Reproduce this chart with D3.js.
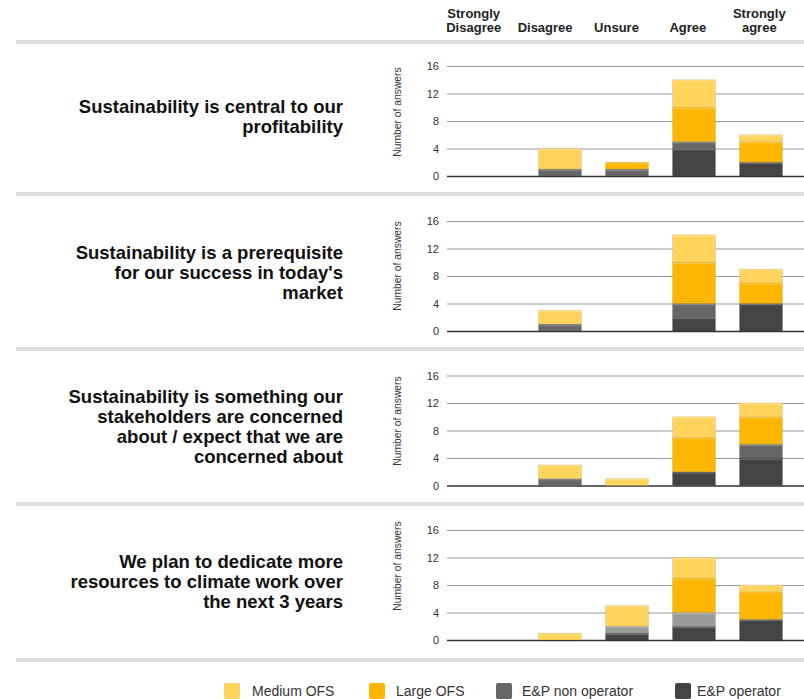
<!DOCTYPE html>
<html>
<head>
<meta charset="utf-8">
<script src="https://cdn.jsdelivr.net/npm/d3@7"></script>
<style>
  html, body { margin: 0; padding: 0; background: #fff; }
  svg { display: block; font-family: "Liberation Sans", Arial, Helvetica, sans-serif; }
</style>
</head>
<body>
<svg id="chart" width="804" height="699"></svg>
<script>
// Answer categories (x axis) and the column headings drawn above them
const categories = ["Strongly Disagree", "Disagree", "Unsure", "Agree", "Strongly agree"];
const headerLines = [["Strongly", "Disagree"], ["Disagree"], ["Unsure"], ["Agree"], ["Strongly", "agree"]];

// Respondent groups, stacked from the bottom up
const groups = ["E&P operator", "E&P non operator", "Large OFS", "Medium OFS"];

// Statements (one panel each)
const statements = [
  ["Sustainability is central to our", "profitability"],
  ["Sustainability is a prerequisite", "for our success in today's", "market"],
  ["Sustainability is something our", "stakeholders are concerned", "about / expect that we are", "concerned about"],
  ["We plan to dedicate more", "resources to climate work over", "the next 3 years"]
];

// Number of answers per group, per category, for each statement
const epOperator    = [[0, 0, 0, 4, 2], [0, 0, 0, 2, 4], [0, 0, 0, 2, 4], [0, 0, 1, 2, 3]];
const epNonOperator = [[0, 1, 1, 1, 0], [0, 1, 0, 2, 0], [0, 1, 0, 0, 2], [0, 0, 1, 2, 0]];
const largeOFS      = [[0, 0, 1, 5, 3], [0, 0, 0, 6, 3], [0, 0, 0, 5, 4], [0, 0, 0, 5, 4]];
const mediumOFS     = [[0, 3, 0, 4, 1], [0, 2, 0, 4, 2], [0, 2, 1, 3, 2], [0, 1, 3, 3, 1]];

const yTicks = [0, 4, 8, 12, 16];
const yMax = 16;
const yTitle = "Number of answers";

// ---- layout ----
const W = 804;
const separatorTops = [40, 192, 347, 502, 658];
const plotTops = [66, 221, 375.5, 530];
const plotH = 110;
const plotLeft = 447;
const titleCenters = [112, 266, 421, 566];
const statementFirstBaselines = [113, 259, 403, 568];
const statementLineH = 20;
const nonOpShade = ["#666666", "#666666", "#666666", "#9b9b9b"];

const colors = {
  "E&P operator": "#444444",
  "E&P non operator": "#666666",
  "Large OFS": "#ffb600",
  "Medium OFS": "#ffd35c"
};

const svg = d3.select("#chart");

// column headings
const headerX = d3.scaleBand().domain(categories).range([438, 795]);
const hdr = svg.append("g").attr("class", "headers");
categories.forEach((c, i) => {
  const lines = headerLines[i];
  const t = hdr.append("text")
    .attr("x", headerX(c) + headerX.bandwidth() / 2)
    .attr("text-anchor", "middle")
    .attr("font-size", 13)
    .attr("font-weight", "bold")
    .attr("fill", "#222");
  lines.forEach((ln, j) => {
    t.append("tspan")
      .attr("x", headerX(c) + headerX.bandwidth() / 2)
      .attr("y", 31.5 - (lines.length - 1 - j) * 14)
      .text(ln);
  });
});

// separators between panels
svg.append("g").selectAll("rect")
  .data(separatorTops)
  .join("rect")
  .attr("x", 16).attr("y", d => d)
  .attr("width", W - 16).attr("height", 4)
  .attr("fill", "#dddddd");

const x = d3.scaleBand()
  .domain(categories)
  .range([459.5, 794.5])
  .paddingInner(0.358)
  .paddingOuter(0.179);

const stack = d3.stack().keys(groups);

statements.forEach((lines, p) => {
  const g = svg.append("g").attr("class", "panel");
  const top = plotTops[p];
  const y = d3.scaleLinear().domain([0, yMax]).range([top + plotH, top]);

  // statement text
  const st = g.append("text")
    .attr("text-anchor", "end")
    .attr("font-size", 18.5)
    .attr("font-weight", "bold")
    .attr("fill", "#111");
  lines.forEach((ln, j) => {
    st.append("tspan")
      .attr("x", 343)
      .attr("y", statementFirstBaselines[p] + j * statementLineH)
      .text(ln);
  });

  // axis title
  g.append("text")
    .attr("transform", `translate(401,${titleCenters[p]}) rotate(-90)`)
    .attr("text-anchor", "middle")
    .attr("font-size", 10.3)
    .attr("fill", "#333")
    .text(yTitle);

  // axis + gridlines
  const axis = g.append("g")
    .attr("transform", `translate(${plotLeft},0)`)
    .call(d3.axisLeft(y).tickValues(yTicks).tickSize(-(W - plotLeft)).tickPadding(8));
  axis.select(".domain").remove();
  axis.selectAll(".tick line")
    .attr("stroke", d => d === 0 ? "#333" : "#999")
    .attr("stroke-width", d => d === 0 ? 1.3 : 1);
  axis.selectAll(".tick text")
    .attr("font-size", 11)
    .attr("font-family", "\"Liberation Sans\", Arial, sans-serif")
    .attr("fill", "#333");

  // stacked bars
  const rows = categories.map((c, i) => ({
    category: c,
    "E&P operator": epOperator[p][i],
    "E&P non operator": epNonOperator[p][i],
    "Large OFS": largeOFS[p][i],
    "Medium OFS": mediumOFS[p][i]
  }));
  const layers = stack(rows);
  const fillFor = key => key === "E&P non operator" ? nonOpShade[p] : colors[key];

  g.append("g").selectAll("g")
    .data(layers)
    .join("g")
    .attr("fill", d => fillFor(d.key))
    .selectAll("rect")
    .data(d => d.filter(s => s[1] > s[0]))
    .join("rect")
    .attr("x", d => x(d.data.category))
    .attr("width", x.bandwidth())
    .attr("y", d => y(d[1]))
    .attr("height", d => y(d[0]) - y(d[1]))
    .attr("stroke", "rgba(0,0,0,0.12)")
    .attr("stroke-width", 0.6);

  // soft highlight along the top edge of each segment
  g.append("g").selectAll("g")
    .data(layers)
    .join("g")
    .selectAll("rect")
    .data(d => d.filter(s => s[1] > s[0]))
    .join("rect")
    .attr("x", d => x(d.data.category) + 0.5)
    .attr("width", x.bandwidth() - 1)
    .attr("y", d => y(d[1]) + 0.5)
    .attr("height", 1.2)
    .attr("fill", "rgba(255,255,255,0.25)");
});

// legend
const legendItems = [
  { key: "Medium OFS", sx: 224, tx: 252 },
  { key: "Large OFS", sx: 369, tx: 396 },
  { key: "E&P non operator", sx: 496, tx: 522 },
  { key: "E&P operator", sx: 675, tx: 697 }
];
const lg = svg.append("g").attr("class", "legend");
legendItems.forEach(it => {
  lg.append("rect")
    .attr("x", it.sx).attr("y", 683)
    .attr("width", 16).attr("height", 16)
    .attr("rx", 2)
    .attr("fill", colors[it.key]);
  lg.append("text")
    .attr("x", it.tx).attr("y", 696)
    .attr("font-size", 14)
    .attr("fill", "#333")
    .text(it.key);
});
</script>
</body>
</html>
